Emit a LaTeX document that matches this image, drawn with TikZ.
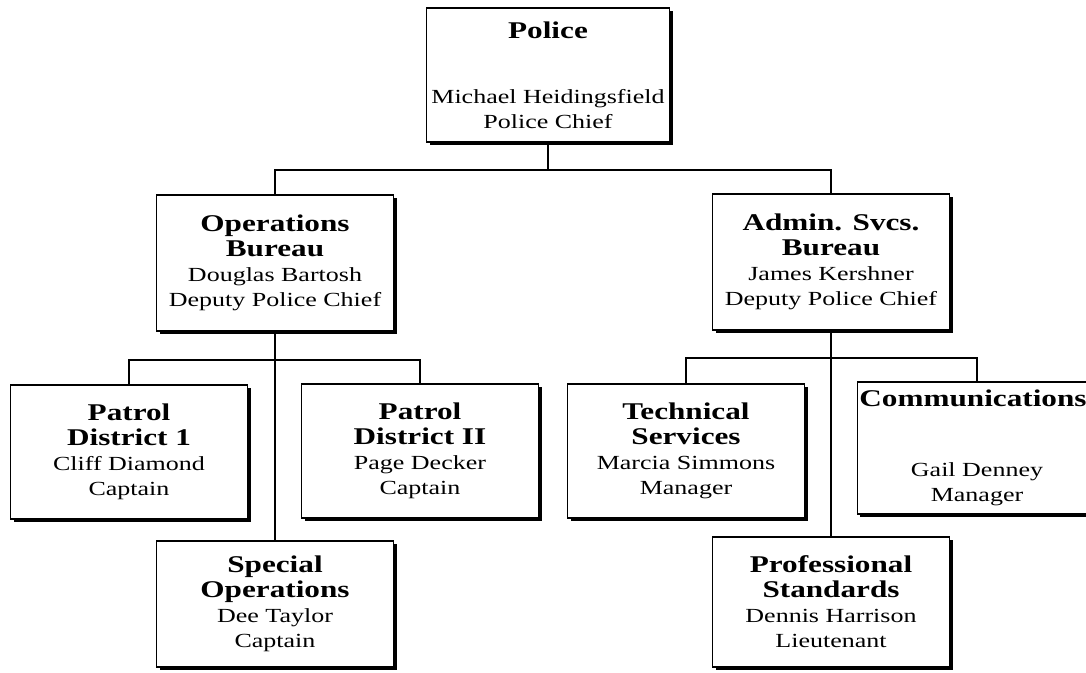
\documentclass[tikz,border=0pt]{standalone}
\usepackage{fontspec}
\setmainfont{Liberation Serif}[FakeStretch=1.3]
\usetikzlibrary{shadows}
\newcommand{\ttl}[1]{{\fontsize{24}{25}\selectfont\bfseries #1}}
\tikzset{
  unit/.style={rectangle, draw=black, line width=1.1pt, fill=white, align=center,
    minimum width=237pt, minimum height=134pt, inner sep=2pt,
    font=\fontsize{20}{25}\selectfont,
    drop shadow={shadow xshift=3pt, shadow yshift=-3pt, fill=black, opacity=1}},
  link/.style={draw=black, line width=1.5pt},
}
\begin{document}
\begin{tikzpicture}[x=1pt, y=-1pt]
  \useasboundingbox (0,0) rectangle (1086,672);
  \clip (0,0) rectangle (1086,672);
  \fill[white] (0,0) rectangle (1086,672);
  % bus lines
  \coordinate (topbus) at (0,170);
  \coordinate (leftbus) at (0,360);
  \coordinate (rightbus) at (0,358);
  \node[unit, minimum width=243pt] (police) at (548,75)
    {\ttl{Police}\\[40pt] Michael Heidingsfield\\ Police Chief};
  \node[unit, minimum height=136pt] (ops) at (275,263)
    {\ttl{Operations}\\ \ttl{Bureau}\\ Douglas Bartosh\\ Deputy Police Chief};
  \node[unit, minimum height=136pt] (admin) at (831,262)
    {\ttl{Admin. Svcs.}\\ \ttl{Bureau}\\ James Kershner\\ Deputy Police Chief};
  \node[unit] (pd1) at (129,452)
    {\ttl{Patrol}\\ \ttl{District 1}\\ Cliff Diamond\\ Captain};
  \node[unit] (pd2) at (420,451)
    {\ttl{Patrol}\\ \ttl{District II}\\ Page Decker\\ Captain};
  \node[unit] (tech) at (686,451)
    {\ttl{Technical}\\ \ttl{Services}\\ Marcia Simmons\\ Manager};
  \node[unit, minimum height=132pt] (comm) at (977,448)
    {\ttl{Communications}\hspace*{8pt}\\[45pt] Gail Denney\\ Manager};
  \node[unit, minimum height=126pt] (spec) at (275,604)
    {\ttl{Special}\\ \ttl{Operations}\\ Dee Taylor\\ Captain};
  \node[unit, minimum height=130pt] (prof) at (831,602)
    {\ttl{Professional}\\ \ttl{Standards}\\ Dennis Harrison\\ Lieutenant};
  \draw[link] (police.south) -- (police.south |- topbus);
  \draw[link] (ops.north) |- (admin.north |- topbus) -- (admin.north);
  \draw[link] (pd1.north) |- (pd2.north |- leftbus) -- (pd2.north);
  \draw[link] (ops.south) -- (spec.north);
  \draw[link] (tech.north) |- (comm.north |- rightbus) -- (comm.north);
  \draw[link] (admin.south) -- (prof.north);
\end{tikzpicture}
\end{document}
